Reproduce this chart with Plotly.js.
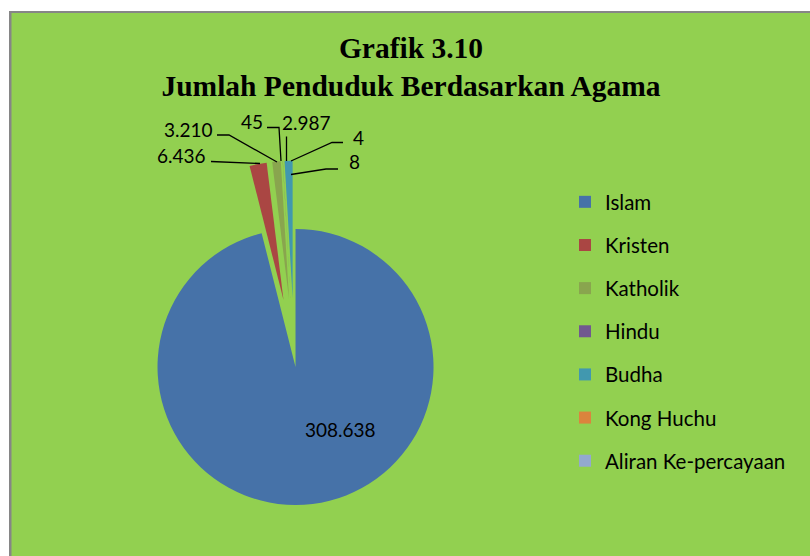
<!DOCTYPE html>
<html>
<head>
<meta charset="utf-8">
<script src="https://cdn.plot.ly/plotly-3.0.1.min.js"></script>
<style>
html, body { margin: 0; padding: 0; background: #ffffff; overflow: hidden; }
#chart { width: 810px; height: 556px; }
</style>
</head>
<body>
<div id="chart"></div>
<script>
// ---- data ----
var categories = ['Islam', 'Kristen', 'Katholik', 'Hindu', 'Budha', 'Kong Huchu', 'Aliran Ke-percayaan'];
var values = [308638, 6436, 3210, 45, 2987, 4, 8];
var colors = ['#4672A8', '#AA4643', '#89A54E', '#71588F', '#4198AF', '#DB843D', '#93A9CF'];

// ---- layout constants (pixels) ----
var W = 810, H = 556;
var R = 138;              // pie radius
var PULL_SMALL = 0.43;    // explode of the small slices
var PULL_MAIN = 0.0657;   // small shift of the big slice
var CX = 294.4, CY = 358; // pie centre
var pulls = values.map(function (v, i) { return i === 0 ? PULL_MAIN : PULL_SMALL; });

function fx(x) { return x / W; }
function fy(y) { return 1 - y / H; }
function fmt(v) { return String(v).replace(/\B(?=(\d{3})+(?!\d))/g, '.'); }

var half = R * (1 + PULL_SMALL);
var pie = {
  type: 'pie',
  labels: categories,
  values: values,
  sort: false,
  direction: 'clockwise',
  rotation: 0,
  pull: pulls,
  marker: { colors: colors, line: { width: 0 } },
  textinfo: 'none',
  showlegend: false,
  domain: { x: [fx(CX - half), fx(CX + half)], y: [fy(CY + half), fy(CY - half)] }
};

// legend entries (one per category)
var legendTraces = categories.map(function (c, i) {
  return {
    type: 'scatter', mode: 'markers', x: [null], y: [null],
    name: c, legendgroup: 'g' + i, showlegend: true,
    marker: { symbol: 'square', size: 12, color: colors[i] },
    hoverinfo: 'skip'
  };
});

// label placement (pixels): text centre and leader path
var labelPos = [
  { x: 340, y: 429, path: null },
  { x: 181, y: 155, path: [[211, 161.5], [260, 163.5]] },
  { x: 188, y: 129.5, path: [[217, 135], [229, 135], [277, 162]] },
  { x: 252, y: 121.5, path: [[267, 127.5], [279, 127.5], [281, 161]] },
  { x: 306.5, y: 123, path: [[286.5, 136.5], [286.5, 161]] },
  { x: 358, y: 137.5, path: [[343, 142.5], [332, 142.5], [291, 161]] },
  { x: 354, y: 161.5, path: [[338, 169], [326, 169], [291, 174.5]] }
];

var labelFont = { family: 'Lato, "Noto Sans", sans-serif', size: 19, color: '#000000' };
var annotations = values.map(function (v, i) {
  return {
    xref: 'paper', yref: 'paper', x: fx(labelPos[i].x), y: fy(labelPos[i].y),
    xanchor: 'center', yanchor: 'middle', showarrow: false,
    text: fmt(v), font: labelFont
  };
});

var shapes = [
  { type: 'rect', xref: 'paper', yref: 'paper', layer: 'below',
    x0: fx(9), x1: fx(815), y0: fy(11), y1: fy(560), fillcolor: '#868686', line: { width: 0 } },
  { type: 'rect', xref: 'paper', yref: 'paper', layer: 'below',
    x0: fx(11.5), x1: fx(815), y0: fy(13), y1: fy(560), fillcolor: '#92D050', line: { width: 0 } }
];
labelPos.forEach(function (p) {
  if (!p.path) return;
  var d = p.path.map(function (pt, k) { return (k ? 'L' : 'M') + fx(pt[0]) + ',' + fy(pt[1]); }).join(' ');
  shapes.push({ type: 'path', xref: 'paper', yref: 'paper', path: d, line: { color: '#000000', width: 1.3 } });
});

var layout = {
  width: W, height: H,
  margin: { l: 0, r: 0, t: 0, b: 0, pad: 0 },
  paper_bgcolor: '#ffffff',
  plot_bgcolor: 'rgba(0,0,0,0)',
  xaxis: { visible: false, showgrid: false, zeroline: false },
  yaxis: { visible: false, showgrid: false, zeroline: false },
  title: {
    text: 'Grafik 3.10<br>Jumlah Penduduk Berdasarkan Agama',
    font: { family: '"Liberation Serif", "Times New Roman", serif', size: 29.5, weight: 'bold', color: '#000000' },
    x: fx(411), xanchor: 'center', y: fy(58), yanchor: 'top', yref: 'container'
  },
  showlegend: true,
  legend: {
    x: fx(565), xanchor: 'left', y: fy(182), yanchor: 'top',
    bgcolor: 'rgba(0,0,0,0)', borderwidth: 0,
    traceorder: 'grouped', tracegroupgap: 13.5,
    font: { family: 'Lato, "Noto Sans", sans-serif', size: 20.5, color: '#000000' }
  },
  shapes: shapes,
  annotations: annotations
};

Plotly.newPlot('chart', [pie].concat(legendTraces), layout, { displayModeBar: false, staticPlot: true });
</script>
</body>
</html>
